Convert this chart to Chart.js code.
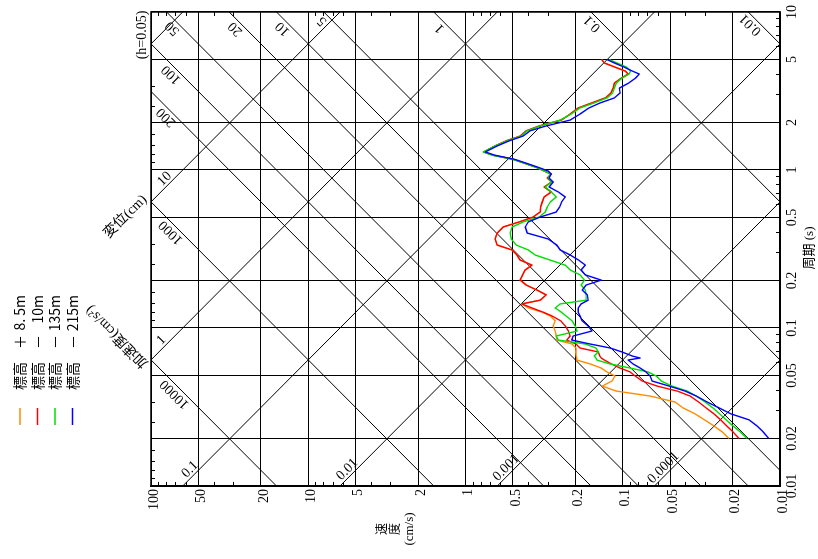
<!DOCTYPE html>
<html lang="ja">
<head>
<meta charset="utf-8">
<title>速度応答スペクトル</title>
<script src="https://cdn.jsdelivr.net/npm/chart.js@4.4.1/dist/chart.umd.min.js"></script>
<style>
html, body { margin: 0; padding: 0; background: #fff; }
body { width: 818px; height: 559px; overflow: hidden; position: relative; }
/* the figure is laid out upright and turned a quarter turn, like the printed page */
#giro { position: absolute; left: 0; top: 0; width: 559px; height: 818px;
        transform-origin: 0 0; transform: translate(0, 559px) rotate(-90deg); }
canvas { display: block; }
</style>
</head>
<body>
<div id="giro"><canvas id="espectro" width="559" height="818"></canvas></div>
<script>
// -------------------------------------------
//  DATA
// -------------------------------------------

// period (s), shared by the four series
const periods = [5.00, 4.76, 4.49, 4.23, 4.05, 3.82, 3.55, 3.30, 3.07, 2.86,
    2.66, 2.47, 2.26, 2.07, 1.90, 1.77, 1.64, 1.53, 1.42, 1.30,
    1.24, 1.17, 1.11, 1.04, 0.985, 0.943, 0.890, 0.839, 0.781, 0.726,
    0.675, 0.627, 0.583, 0.542, 0.504, 0.469, 0.436, 0.399, 0.366, 0.335,
    0.312, 0.290, 0.269, 0.250, 0.233, 0.217, 0.201, 0.187, 0.174, 0.162,
    0.150, 0.142, 0.134, 0.126, 0.119, 0.111, 0.103, 0.0957, 0.0890, 0.0839,
    0.0792, 0.0747, 0.0705, 0.0665, 0.0646, 0.0627, 0.0592, 0.0558, 0.0527, 0.0497,
    0.0462, 0.0429, 0.0399, 0.0371, 0.0340, 0.0312, 0.0286, 0.0262, 0.0240, 0.0220,
    0.0200]

// velocity response (cm/s)
const velPlus85 = [0.136, 0.131, 0.113, 0.0965, 0.0924, 0.102, 0.113, 0.115, 0.119, 0.129,
    0.157, 0.192, 0.216, 0.246, 0.340, 0.411, 0.449, 0.551, 0.648, 0.766,
    0.667, 0.497, 0.430, 0.355, 0.316, 0.285, 0.302, 0.283, 0.316, 0.285,
    0.316, 0.325, 0.333, 0.335, 0.371, 0.456, 0.576, 0.629, 0.648, 0.629,
    0.507, 0.471, 0.449, 0.378, 0.417, 0.433, 0.449, 0.411, 0.352, 0.307,
    0.335, 0.439, 0.399, 0.325, 0.289, 0.269, 0.277, 0.269, 0.265, 0.263,
    0.210, 0.198, 0.199, 0.198, 0.196, 0.196, 0.161, 0.137, 0.126, 0.112,
    0.117, 0.135, 0.110, 0.0670, 0.0464, 0.0413, 0.0346, 0.0301, 0.0263, 0.0233,
    0.0211]

const velMinus10 = [0.136, 0.131, 0.113, 0.0965, 0.0924, 0.102, 0.113, 0.115, 0.119, 0.129,
    0.157, 0.192, 0.216, 0.246, 0.340, 0.411, 0.449, 0.551, 0.648, 0.766,
    0.667, 0.497, 0.430, 0.355, 0.316, 0.285, 0.302, 0.283, 0.316, 0.285,
    0.316, 0.325, 0.333, 0.335, 0.371, 0.456, 0.576, 0.629, 0.648, 0.629,
    0.507, 0.471, 0.449, 0.378, 0.417, 0.433, 0.449, 0.411, 0.352, 0.307,
    0.335, 0.439, 0.377, 0.321, 0.281, 0.248, 0.232, 0.222, 0.216, 0.227,
    0.198, 0.187, 0.143, 0.140, 0.137, 0.131, 0.118, 0.104, 0.0897, 0.0834,
    0.0753, 0.0604, 0.0451, 0.0373, 0.0329, 0.0295, 0.0263, 0.0238, 0.0218, 0.0199,
    0.0182]

const velMinus135 = [0.122, 0.109, 0.0951, 0.0890, 0.0910, 0.101, 0.110, 0.113, 0.116, 0.126,
    0.152, 0.187, 0.213, 0.250, 0.335, 0.405, 0.443, 0.543, 0.648, 0.772,
    0.676, 0.505, 0.430, 0.355, 0.316, 0.289, 0.298, 0.285, 0.311, 0.285,
    0.265, 0.289, 0.302, 0.311, 0.340, 0.430, 0.505, 0.520, 0.512, 0.476,
    0.399, 0.361, 0.289, 0.232, 0.216, 0.187, 0.175, 0.184, 0.173, 0.171,
    0.171, 0.250, 0.269, 0.246, 0.229, 0.210, 0.201, 0.195, 0.265, 0.257,
    0.173, 0.148, 0.143, 0.152, 0.148, 0.146, 0.120, 0.0897, 0.0690, 0.0613,
    0.0570, 0.0486, 0.0389, 0.0341, 0.0299, 0.0267, 0.0242, 0.0220, 0.0199, 0.0179,
    0.0162]

const velMinus215 = [0.126, 0.113, 0.0986, 0.0871, 0.0786, 0.0828, 0.0917, 0.105, 0.104, 0.113,
    0.139, 0.164, 0.187, 0.216, 0.307, 0.388, 0.430, 0.527, 0.629, 0.749,
    0.648, 0.490, 0.417, 0.345, 0.298, 0.285, 0.294, 0.277, 0.294, 0.257,
    0.232, 0.245, 0.252, 0.265, 0.335, 0.399, 0.417, 0.405, 0.298, 0.262,
    0.250, 0.216, 0.191, 0.173, 0.184, 0.173, 0.137, 0.171, 0.181, 0.168,
    0.166, 0.184, 0.192, 0.192, 0.187, 0.181, 0.166, 0.157, 0.207, 0.211,
    0.161, 0.120, 0.101, 0.0871, 0.0775, 0.0924, 0.0859, 0.0775, 0.0711, 0.0670,
    0.0651, 0.0507, 0.0401, 0.0341, 0.0290, 0.0244, 0.0205, 0.0157, 0.0140, 0.0128,
    0.0118]

const seriesColors = ['#ff8c00', '#ff0000', '#00dd00', '#0000ff']
const legendRows = [['標高', '＋', '8. 5m'], ['標高', '－', '10m'], ['標高', '－', '135m'], ['標高', '－', '215m']]

const periodTicks = [0.01, 0.02, 0.05, 0.1, 0.2, 0.5, 1, 2, 5, 10]
const periodTickLabels = ['0.01', '0.02', '0.05', '0.1', '0.2', '0.5', '1', '2', '5', '10']
const velTicks = [0.01, 0.02, 0.05, 0.1, 0.2, 0.5, 1, 2, 5, 10, 20, 50, 100]
const velTickLabels = ['0.01', '0.02', '0.05', '0.1', '0.2', '0.5', '1', '2', '5', '10', '20', '50', '100']

// small inner tick marks
const periodMinor = [0.03, 0.04, 0.06, 0.07, 0.08, 0.09, 0.3, 0.4, 0.6, 0.7, 0.8, 0.9, 3, 4, 6, 7, 8, 9]
const freqMinor = [0.3, 0.4, 0.6, 0.7, 0.8, 0.9, 3, 4, 6, 7, 8, 9, 30, 40, 60, 70, 80, 90]
const velMinor = [0.03, 0.04, 0.06, 0.07, 0.08, 0.09, 0.3, 0.4, 0.6, 0.7, 0.8, 0.9,
    3, 4, 6, 7, 8, 9, 30, 40, 60, 70, 80, 90]

// tripartite guide lines: displacement (cm) and acceleration (cm/s2)
const dispLines = [0.0001, 0.001, 0.01, 0.1, 1, 10, 100]
const accLines = [0.01, 0.1, 1, 5, 10, 20, 50, 100, 200, 1000, 10000]

// [line value, text, period where the text sits]
const accTags = [[50, '50', 8.5], [20, '20', 8.45], [10, '10', 8.45], [5, '5', 9.47], [1, '1', 8.5],
    [0.1, '0.1', 9.1], [0.01, '0.01', 8.97], [100, '100', 4.33], [200, '200', 2.33],
    [1000, '1000', 0.435], [10000, '10000', 0.0412]]
const dispTags = [[10, '10', 0.821], [1, '1', 0.0782], [0.1, '0.1', 0.0119], [0.01, '0.01', 0.0119],
    [0.001, '0.001', 0.0122], [0.0001, '0.0001', 0.0122]]

// -------------------------------------------
//  CHART
// -------------------------------------------

const ModEspectro = (function() {

    const serif = '"Liberation Serif", "Times New Roman", serif'
    const jp = '"Noto Sans CJK JP", sans-serif'
    const mixed = '"Liberation Serif", "Noto Sans CJK JP", serif'
    const TWO_PI = 2 * Math.PI
    const R2 = Math.SQRT1_2

    function serie(vals, color, order) {
        return {
            data: periods.map((t, i) => ({ x: t, y: vals[i] })),
            borderColor: color, borderWidth: 1.4, pointRadius: 0,
            showLine: true, tension: 0, order: order, borderJoinStyle: 'round'
        }
    }

    function guia(pts) {
        return { data: pts, borderColor: '#000', borderWidth: 1, pointRadius: 0, showLine: true, order: 10 }
    }

    function texto(ctx, s, x, y, ang, font, align) {
        ctx.save()
        ctx.translate(x, y)
        if (ang) ctx.rotate(ang)
        ctx.font = font
        ctx.fillStyle = '#000'
        ctx.textAlign = align || 'center'
        ctx.textBaseline = 'middle'
        ctx.fillText(s, 0, 0)
        ctx.restore()
    }

    const extras = {
        id: 'extras',
        afterDatasetsDraw(chart) {
            const ctx = chart.ctx, a = chart.chartArea
            const x = chart.scales.x, y = chart.scales.y
            ctx.save()
            ctx.strokeStyle = '#000'
            ctx.lineWidth = 1
            ctx.beginPath()
            periodMinor.forEach(function(t) {
                const px = Math.round(x.getPixelForValue(t)) + 0.5
                ctx.moveTo(px, a.bottom); ctx.lineTo(px, a.bottom - 4)
            })
            freqMinor.forEach(function(f) {
                const px = Math.round(x.getPixelForValue(1 / f)) + 0.5
                ctx.moveTo(px, a.top); ctx.lineTo(px, a.top + 4)
            })
            velMinor.forEach(function(v) {
                const py = Math.round(y.getPixelForValue(v)) + 0.5
                ctx.moveTo(a.left, py); ctx.lineTo(a.left + 4, py)
                ctx.moveTo(a.right, py); ctx.lineTo(a.right - 4, py)
            })
            ctx.stroke()
            ctx.lineWidth = 1.5
            ctx.strokeRect(a.left, a.top, a.right - a.left, a.bottom - a.top)
            ctx.restore()
        },
        afterDraw(chart) {
            const ctx = chart.ctx
            const x = chart.scales.x, y = chart.scales.y
            const f14 = '14px ' + serif

            // labels on the guide lines
            accTags.forEach(function(g) {
                const v = g[0] * g[2] / TWO_PI
                texto(ctx, g[1], x.getPixelForValue(g[2]) - 7.5 * R2, y.getPixelForValue(v) - 7.5 * R2, -Math.PI / 4, f14)
            })
            dispTags.forEach(function(g) {
                const v = TWO_PI * g[0] / g[2]
                texto(ctx, g[1], x.getPixelForValue(g[2]) + 6.5 * R2, y.getPixelForValue(v) - 6.5 * R2, Math.PI / 4, f14)
            })

            // names of the guide families, on the extension of a line
            let t = 0.468, v = TWO_PI * 10 / t
            texto(ctx, '変位(cm)', x.getPixelForValue(t) + 7.8 * R2, y.getPixelForValue(v) - 7.8 * R2, Math.PI / 4, '14px ' + mixed)
            t = 0.0956; v = 10000 * t / TWO_PI
            texto(ctx, '加速度(cm/s²)', x.getPixelForValue(t) - 7.6 * R2, y.getPixelForValue(v) - 7.6 * R2, -Math.PI / 4, '14px ' + mixed)

            texto(ctx, '(h=0.05)', 524, 142, 0, f14)
            texto(ctx, '周期 (s)', 311, 810, 0, '13px ' + mixed)
            texto(ctx, '速', 30, 381, 0, '12px ' + jp)
            texto(ctx, '度', 30, 394, 0, '12px ' + jp)
            texto(ctx, '(cm/s)', 30, 410, 0, '13px ' + serif)

            // legend
            legendRows.forEach(function(r, i) {
                const ry = 20 + i * 17.5
                ctx.save()
                ctx.strokeStyle = seriesColors[i]
                ctx.lineWidth = 1.5
                ctx.beginPath()
                ctx.moveTo(134, ry); ctx.lineTo(151, ry)
                ctx.stroke()
                ctx.restore()
                texto(ctx, r[0], 169, ry, 0, '14px ' + jp, 'left')
                texto(ctx, r[1], 217, ry, 0, '14px ' + jp)
                texto(ctx, r[2], 264, ry, 0, '14px ' + jp, 'right')
            })
        }
    }

    function init() {
        const el = document.getElementById('espectro')
        if (!el) return

        const datasets = [
            serie(velPlus85, seriesColors[0], 3),
            serie(velMinus10, seriesColors[1], 2),
            serie(velMinus135, seriesColors[2], 1),
            serie(velMinus215, seriesColors[3], 0)
        ]
        dispLines.forEach(function(d) {
            datasets.push(guia([{ x: 0.004, y: TWO_PI * d / 0.004 }, { x: 25, y: TWO_PI * d / 25 }]))
        })
        accLines.forEach(function(ac) {
            datasets.push(guia([{ x: 0.004, y: ac * 0.004 / TWO_PI }, { x: 25, y: ac * 25 / TWO_PI }]))
        })

        new Chart(el, {
            type: 'scatter',
            data: { datasets: datasets },
            options: {
                responsive: false, animation: false, devicePixelRatio: 1, events: [],
                layout: { padding: { top: 151, right: 12, left: 0, bottom: 0 } },
                plugins: { legend: { display: false }, tooltip: { enabled: false } },
                scales: {
                    x: {
                        type: 'logarithmic', position: 'bottom', min: 0.01, max: 10,
                        afterBuildTicks: function(s) { s.ticks = periodTicks.map(v => ({ value: v })) },
                        afterFit: function(s) { s.height = 38 },
                        grid: { color: '#000', lineWidth: 1, drawTicks: false },
                        border: { display: true, color: '#000', width: 1.5 },
                        ticks: {
                            autoSkip: false, maxRotation: 0, minRotation: 0, padding: 4, color: '#000',
                            font: { family: serif, size: 14 },
                            callback: function(v, i) { return periodTickLabels[i] }
                        }
                    },
                    y: {
                        type: 'logarithmic', position: 'left', min: 0.01, max: 100,
                        afterBuildTicks: function(s) { s.ticks = velTicks.map(v => ({ value: v })) },
                        afterFit: function(s) { s.width = 73 },
                        grid: { color: '#000', lineWidth: 1, drawTicks: false },
                        border: { display: true, color: '#000', width: 1.5 },
                        ticks: {
                            autoSkip: false, padding: 3, labelOffset: 3, color: '#000',
                            font: { family: serif, size: 14 },
                            callback: function(v, i) { return velTickLabels[i] }
                        }
                    }
                }
            },
            plugins: [extras]
        })
    }

    return { init: init }

})()

document.addEventListener('DOMContentLoaded', function() {
    ModEspectro.init()
})
</script>
</body>
</html>
